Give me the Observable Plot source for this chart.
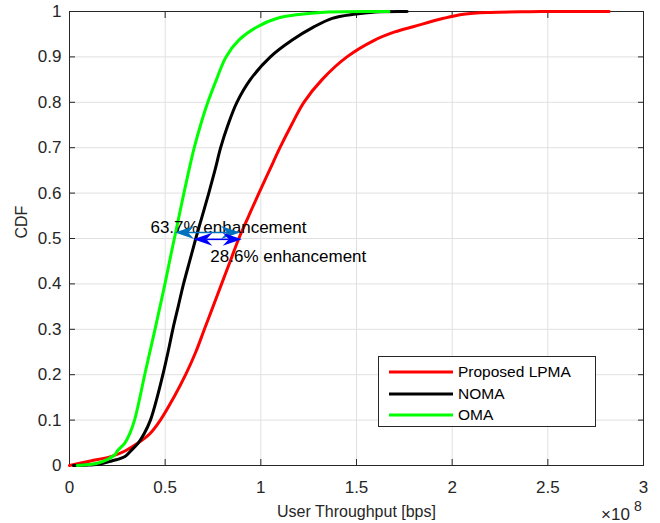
<!DOCTYPE html>
<html><head><meta charset="utf-8">
<script src="https://cdn.jsdelivr.net/npm/d3@7"></script>
<script src="https://cdn.jsdelivr.net/npm/@observablehq/plot@0.6"></script>
<style>
body{margin:0;background:#fff;}
#wrap{position:relative;width:660px;height:523px;font-family:"Liberation Sans",Arial,sans-serif;}
#legend{position:absolute;left:378px;top:356px;width:218px;height:71px;border:1px solid #262626;background:#fff;box-sizing:border-box;}
.item{position:absolute;left:0;height:20px;font-size:15.5px;color:#000;}
.item svg{position:absolute;left:10px;top:8px;}
.item span{position:absolute;left:79px;top:1px;white-space:nowrap;}
.exp{position:absolute;color:#262626;white-space:nowrap;}
</style>
</head><body>
<div id="wrap"></div>
<script>
// ---- data (x in units of 1e8 bps) ----
const lpmaX   = [0,0.11,0.22,0.29,0.36,0.42,0.475,0.545,0.607,0.66,0.705,0.75,0.795,0.84,0.885,0.937,0.99,1.045,1.10,1.16,1.225,1.32,1.45,1.59,1.70,1.80,1.955,2.06,2.2,2.4,2.6,2.82];
const lpmaCdf = [0,0.01,0.02,0.032,0.05,0.07,0.1,0.15,0.2,0.25,0.3,0.35,0.4,0.45,0.5,0.55,0.6,0.65,0.7,0.75,0.8,0.85,0.9,0.936,0.955,0.967,0.985,0.994,0.998,0.9995,1,1];
const nomaX   = [0.02,0.1,0.16,0.22,0.29,0.32,0.36,0.39,0.423,0.458,0.488,0.515,0.54,0.568,0.596,0.628,0.66,0.694,0.728,0.76,0.79,0.828,0.875,0.945,1.05,1.164,1.277,1.373,1.486,1.6,1.765];
const nomaCdf = [0,0.001,0.003,0.01,0.02,0.032,0.05,0.07,0.1,0.15,0.2,0.25,0.3,0.35,0.4,0.45,0.5,0.55,0.6,0.65,0.7,0.75,0.8,0.85,0.9,0.937,0.966,0.985,0.994,0.999,1];
const omaX    = [0.04,0.1,0.145,0.197,0.24,0.25,0.29,0.315,0.34,0.368,0.393,0.42,0.447,0.473,0.499,0.523,0.548,0.573,0.598,0.624,0.652,0.685,0.723,0.768,0.818,0.885,0.98,1.086,1.21,1.35,1.67];
const omaCdf  = [0,0.002,0.005,0.013,0.025,0.032,0.05,0.07,0.1,0.15,0.2,0.25,0.3,0.35,0.4,0.45,0.5,0.55,0.6,0.65,0.7,0.75,0.8,0.85,0.9,0.937,0.966,0.985,0.994,0.999,1];
const seriesNames = ["Proposed LPMA","NOMA","OMA"];
const seriesColors = ["#ff0000","#000000","#00ff00"];
const xTicks = [0,0.5,1,1.5,2,2.5,3];
const yTicks = [0,0.1,0.2,0.3,0.4,0.5,0.6,0.7,0.8,0.9,1];
const xLabel = "User Throughput [bps]";
const yLabel = "CDF";
const xExponent = "8";
// annotations: double arrows and their texts
const arrowX1 = [0.554, 0.65];
const arrowX2 = [0.894, 0.903];
const arrowY  = [0.512, 0.497];
const arrowColors = ["#0072bd", "#0000ff"];
const noteText = ["63.7% enhancement", "28.6% enhancement"];
const noteX = [0.423, 0.736];
const noteY = [0.524, 0.4595];

const toRows = (xs, ys) => xs.map((x, i) => ({x, y: ys[i]}));
const series = [toRows(lpmaX, lpmaCdf), toRows(nomaX, nomaCdf), toRows(omaX, omaCdf)];
const notes = noteText.map((t, i) => ({t, x: noteX[i], y: noteY[i]}));
const font = "Liberation Sans, Arial, sans-serif";
const ink = "#262626";

const plot = Plot.plot({
  width: 660, height: 523,
  marginLeft: 69, marginRight: 17, marginTop: 11, marginBottom: 58,
  style: {fontFamily: font, fontSize: "17px", color: ink, background: "white"},
  x: {domain: [0, 3]},
  y: {domain: [0, 1]},
  marks: [
    Plot.gridX(xTicks, {stroke: "#e0e0e0", strokeOpacity: 1}),
    Plot.gridY(yTicks, {stroke: "#e0e0e0", strokeOpacity: 1}),
    Plot.frame({stroke: ink}),
    Plot.axisX({ticks: xTicks, tickSize: -6, tickPadding: 21, label: null, tickFormat: d => String(d), stroke: ink}),
    Plot.axisX({ticks: xTicks, anchor: "top", tickSize: -6, label: null, tickFormat: () => "", stroke: ink}),
    Plot.axisY({ticks: yTicks, tickSize: -6, tickPadding: 14, label: null, tickFormat: d => String(d), stroke: ink}),
    Plot.axisY({ticks: yTicks, anchor: "right", tickSize: -6, label: null, tickFormat: () => "", stroke: ink}),
    ...series.map((rows, i) => Plot.line(rows, {x: "x", y: "y", stroke: seriesColors[i], strokeWidth: 3, curve: "catmull-rom"})),
    Plot.text(notes, {x: "x", y: "y", text: "t", textAnchor: "start", lineAnchor: "middle", fontSize: 17, fill: "#000"}),
    Plot.text([xLabel], {frameAnchor: "bottom", dy: 46, lineAnchor: "middle", fontSize: 16, fill: ink}),
    Plot.text([yLabel], {frameAnchor: "left", dx: -48, rotate: -90, lineAnchor: "middle", fontSize: 16, fill: ink})
  ]
});
document.getElementById("wrap").appendChild(plot);

// double-headed arrows drawn with the plot's own scales
const sx = plot.scale("x"), sy = plot.scale("y");
const g = d3.select(plot).append("g");
const L = 19, H = 6.5, N = 13;
arrowX1.forEach((x1, i) => {
  const a = sx.apply(x1), b = sx.apply(arrowX2[i]), y = sy.apply(arrowY[i]);
  const c = arrowColors[i];
  g.append("line").attr("x1", a + N).attr("x2", b - N).attr("y1", y).attr("y2", y)
    .attr("stroke", c).attr("stroke-width", 1.5);
  g.append("polygon").attr("fill", c)
    .attr("points", `${a},${y} ${a + L},${y - H} ${a + N},${y} ${a + L},${y + H}`);
  g.append("polygon").attr("fill", c)
    .attr("points", `${b},${y} ${b - L},${y - H} ${b - N},${y} ${b - L},${y + H}`);
});

// x exponent (×10^8) placed at the right end of the x axis
const wrap = document.getElementById("wrap");
const xr = sx.apply(3), yb = sy.apply(0);
const e1 = document.createElement("div");
e1.className = "exp";
e1.style.cssText = `left:${xr - 42}px;top:${yb + 41}px;font-size:17px;line-height:17px;`;
e1.textContent = "\u00d710";
const e2 = document.createElement("div");
e2.className = "exp";
e2.style.cssText = `left:${xr - 9}px;top:${yb + 34}px;font-size:14px;line-height:14px;`;
e2.textContent = xExponent;
wrap.appendChild(e1); wrap.appendChild(e2);

// legend
const leg = document.createElement("div");
leg.id = "legend";
seriesNames.forEach((name, i) => {
  const it = document.createElement("div");
  it.className = "item";
  it.style.top = (5 + i * 21.7) + "px";
  it.innerHTML = `<svg width="64" height="4"><line x1="0" x2="64" y1="2" y2="2" stroke="${seriesColors[i]}" stroke-width="3"/></svg><span>${name}</span>`;
  leg.appendChild(it);
});
wrap.appendChild(leg);
</script>
</body></html>
